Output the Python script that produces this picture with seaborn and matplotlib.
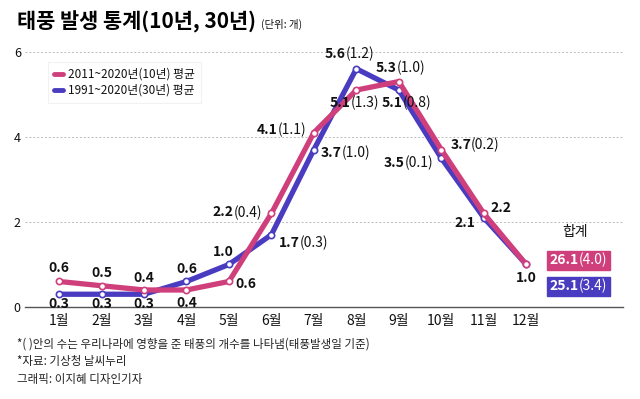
import pandas as pd
import matplotlib
matplotlib.use('Agg')
import matplotlib.pyplot as plt
import seaborn as sns
from matplotlib.lines import Line2D

# 데이터
months = ['1월', '2월', '3월', '4월', '5월', '6월', '7월', '8월', '9월', '10월', '11월', '12월']
avg_10y = [0.6, 0.5, 0.4, 0.4, 0.6, 2.2, 4.1, 5.1, 5.3, 3.7, 2.2, 1.0]
avg_30y = [0.3, 0.3, 0.3, 0.6, 1.0, 1.7, 3.7, 5.6, 5.1, 3.5, 2.1, 1.0]
korea_10y = [None, None, None, None, None, '0.4', '1.1', '1.3', '1.0', '0.2', None, None]
korea_30y = [None, None, None, None, None, '0.3', '1.0', '1.2', '0.8', '0.1', None, None]
series_names = ['2011~2020년(10년) 평균', '1991~2020년(30년) 평균']
total_10y = ('26.1', '(4.0)')
total_30y = ('25.1', '(3.4)')

PINK = '#cf3f7c'
BLUE = '#4a3cc0'

sns.set_style('white')
plt.rcParams['font.family'] = ['Noto Sans CJK KR', 'DejaVu Sans']
plt.rcParams['text.color'] = '#111111'
plt.rcParams['xtick.labelcolor'] = '#111111'
plt.rcParams['ytick.labelcolor'] = '#111111'

x = list(range(1, 13))
df = pd.DataFrame({
    'month': x * 2,
    'value': avg_10y + avg_30y,
    'series': [series_names[0]] * 12 + [series_names[1]] * 12,
})

fig = plt.figure(figsize=(6.4, 3.99), dpi=100)
ax = fig.add_axes([25 / 640, 92 / 399, 598 / 640, 268 / 399])

# 30년 먼저 그리고 10년을 위에
for name, col in [(series_names[1], BLUE), (series_names[0], PINK)]:
    sns.lineplot(data=df[df['series'] == name], x='month', y='value', ax=ax,
                 color=col, lw=3.8, marker='o', markersize=4.5,
                 markerfacecolor='white', markeredgecolor=col, markeredgewidth=1.2,
                 legend=False)

ax.set_xlim(1 - 34 / 42.4, 1 + 597 / 42.4 - 34 / 42.4)
ax.set_ylim(0, 6.3)
ax.set_xticks(x)
ax.set_xticklabels(months, fontsize=10)
ax.set_yticks([0, 2, 4, 6])
ax.set_yticklabels(['0', '2', '4', '6'], fontsize=9)
ax.tick_params(axis='y', length=0, pad=3)
ax.tick_params(axis='x', length=4, width=0.8, color='#555555', pad=1)
ax.set_xlabel('')
ax.set_ylabel('')
for s in ['top', 'right', 'left']:
    ax.spines[s].set_visible(False)
ax.spines['bottom'].set_color('#555555')
ax.spines['bottom'].set_linewidth(1.0)
for yv in [2, 4, 6]:
    ax.axhline(yv, color='#bbbbbb', lw=0.7, ls=(0, (2, 2)), zorder=0)


def put_label(i, vals, paren, dx, dy, mode):
    # dx, dy: 픽셀 오프셋 (dy 양수 = 아래)
    xy = (x[i], vals[i])
    txt = f'{vals[i]:.1f}'
    kw = dict(xy=xy, textcoords='offset pixels', va='center', fontsize=10, zorder=5)
    if paren is None:
        ax.annotate(txt, xytext=(dx, -dy), ha=mode, fontweight='bold', **kw)
    elif mode == 'right':
        t = ax.annotate('(' + paren + ')', xytext=(dx, -dy), ha='right', **kw)
        ax.annotate(txt, xy=(0, 0.5), xycoords=t, ha='right', va='center',
                    fontsize=10, fontweight='bold', zorder=5)
    elif mode == 'left':
        t = ax.annotate(txt, xytext=(dx, -dy), ha='left', fontweight='bold', **kw)
        ax.annotate('(' + paren + ')', xy=(1, 0.5), xycoords=t, ha='left', va='center',
                    fontsize=10, zorder=5)
    else:
        ax.annotate(txt, xytext=(dx, -dy), ha='right', fontweight='bold', **kw)
        ax.annotate('(' + paren + ')', xytext=(dx, -dy), ha='left', **kw)


pink_pos = [(0, -13, 'center'), (0, -13, 'center'), (0, -12, 'center'), (0, 13, 'center'),
            (17, 3, 'center'), (-9, -1, 'right'), (-8, -3, 'right'), (-6, 13, 'split'),
            (-2, -14, 'split'), (9, -5, 'left'), (7, -5, 'left'), (0, 14, 'center')]
blue_pos = [(0, 10, 'center'), (0, 10, 'center'), (0, 10, 'center'), (0, -12, 'center'),
            (-6, -12, 'center'), (7, 8, 'left'), (7, 3, 'left'), (-11, -15, 'split'),
            (4, 13, 'split'), (-8, 5, 'right'), (-8, 5, 'right'), None]

for i in range(12):
    put_label(i, avg_10y, korea_10y[i], *pink_pos[i])
    if blue_pos[i] is not None:
        put_label(i, avg_30y, korea_30y[i], *blue_pos[i])

handles = [Line2D([], [], color=PINK, lw=3.5), Line2D([], [], color=BLUE, lw=3.5)]
leg = ax.legend(handles, series_names, loc='upper left', bbox_to_anchor=(0.038, 0.914),
                borderaxespad=0, fontsize=8.5, handlelength=0.8, handletextpad=0.4,
                frameon=True, fancybox=False, labelspacing=0.25, borderpad=0.5)
leg.get_frame().set_edgecolor('#eeeeee')
leg.get_frame().set_linewidth(0.8)

# 제목
title = fig.text(17 / 640, 1 - 22 / 399, '태풍 발생 통계(10년, 30년)', fontsize=15,
                 fontweight='bold', va='center', ha='left', color='black')
ax.annotate('(단위: 개)', xy=(1, 0.5), xycoords=title, xytext=(5, -2),
            textcoords='offset pixels', fontsize=7.5, va='center', ha='left',
            annotation_clip=False)

# 합계 박스
fig.text(575 / 640, 1 - 232 / 399, '합계', fontsize=10, ha='center', va='center')
for (num, par), col, yc in [(total_10y, PINK, 260), (total_30y, BLUE, 286)]:
    fig.patches.append(plt.Rectangle((547 / 640, 1 - (yc + 9.5) / 399), 63 / 640, 19 / 399,
                                     transform=fig.transFigure, color=col, zorder=1))
    fig.text(579 / 640, 1 - yc / 399, num, fontsize=10, fontweight='bold',
             color='white', ha='right', va='center', zorder=2)
    fig.text(579 / 640, 1 - yc / 399, par, fontsize=10, color='white',
             ha='left', va='center', zorder=2)

# 주석
notes = ['*( )안의 수는 우리나라에 영향을 준 태풍의 개수를 나타냄(태풍발생일 기준)',
         '*자료: 기상청 날씨누리',
         '그래픽: 이지혜 디자인기자']
for k, line in enumerate(notes):
    fig.text(17 / 640, 1 - (344 + 17.5 * k) / 399, line, fontsize=8.3,
             ha='left', va='center', color='#222222')

fig.savefig('out.png', dpi=100)
